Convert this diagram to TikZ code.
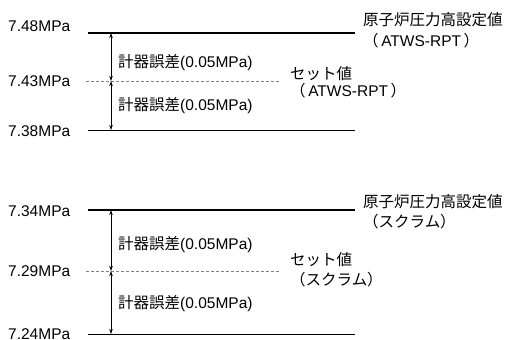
\documentclass[tikz,border=0pt]{standalone}
\usepackage{fontspec}
\setmainfont{Liberation Sans}
\newfontfamily\jp{Noto Sans CJK JP}
\usetikzlibrary{arrows.meta}
\begin{document}
\begin{tikzpicture}[x=1pt,y=-1pt,
    lbl/.style={font=\fontsize{15.5}{18}\selectfont,inner sep=0pt},
    setline/.style={line width=2pt},
    lowline/.style={line width=1pt},
    midline/.style={line width=0.6pt,gray,densely dashed},
    gap/.style={line width=0.8pt,{Stealth[length=5pt,width=3.5pt]}-{Stealth[length=5pt,width=3.5pt]}}]
  \useasboundingbox (0,0) rectangle (509,340);
  % upper block: ATWS-RPT
  \coordinate (a1) at (88,33);  \coordinate (a2) at (355,33);
  \coordinate (b1) at (86,81);  \coordinate (b2) at (280,81);
  \coordinate (c1) at (88,130); \coordinate (c2) at (355,130);
  \draw[setline] (a1) -- (a2);
  \draw[midline] (b1) -- (b2);
  \draw[lowline] (c1) -- (c2);
  \draw[gap] (a1-|111,0) -- (b1-|111,0);
  \draw[gap] (b1-|111,0) -- (c1-|111,0);
  \node[lbl,anchor=west] (pa) at (8,26) {7.48MPa};
  \node[lbl,anchor=west] (pb) at (8,81) {7.43MPa};
  \node[lbl,anchor=west] (pc) at (8,131) {7.38MPa};
  \node[lbl,anchor=west] (ea) at (118,63) {{\jp 計器誤差}(0.05MPa)};
  \node[lbl,anchor=west] (eb) at (118,106) {{\jp 計器誤差}(0.05MPa)};
  \node[lbl,anchor=west] (ha) at (363,20) {\jp 原子炉圧力高設定値};
  \node[lbl,anchor=west] (hb) at (363,41) {{\jp （}\,ATWS-RPT\,{\jp ）}};
  \node[lbl,anchor=west] (sa) at (290,74) {\jp セット値};
  \node[lbl,anchor=west] (sb) at (290,91) {{\jp （}\,ATWS-RPT\,{\jp ）}};
  % lower block: scram
  \coordinate (d1) at (88,210);  \coordinate (d2) at (355,210);
  \coordinate (e1) at (86,271);  \coordinate (e2) at (280,271);
  \coordinate (f1) at (88,334);  \coordinate (f2) at (355,334);
  \draw[setline] (d1) -- (d2);
  \draw[midline] (e1) -- (e2);
  \draw[lowline] (f1) -- (f2);
  \draw[gap] (d1-|111,0) -- (e1-|111,0);
  \draw[gap] (e1-|111,0) -- (f1-|111,0);
  \node[lbl,anchor=west] (pd) at (8,211) {7.34MPa};
  \node[lbl,anchor=west] (pe) at (8,271) {7.29MPa};
  \node[lbl,anchor=west] (pf) at (8,334) {7.24MPa};
  \node[lbl,anchor=west] (ec) at (118,245) {{\jp 計器誤差}(0.05MPa)};
  \node[lbl,anchor=west] (ed) at (118,304) {{\jp 計器誤差}(0.05MPa)};
  \node[lbl,anchor=west] (hc) at (363,202) {\jp 原子炉圧力高設定値};
  \node[lbl,anchor=west] (hd) at (363,222) {\jp （スクラム）};
  \node[lbl,anchor=west] (sc) at (290,260) {\jp セット値};
  \node[lbl,anchor=west] (sd) at (290,280) {\jp （スクラム）};
\end{tikzpicture}
\end{document}
